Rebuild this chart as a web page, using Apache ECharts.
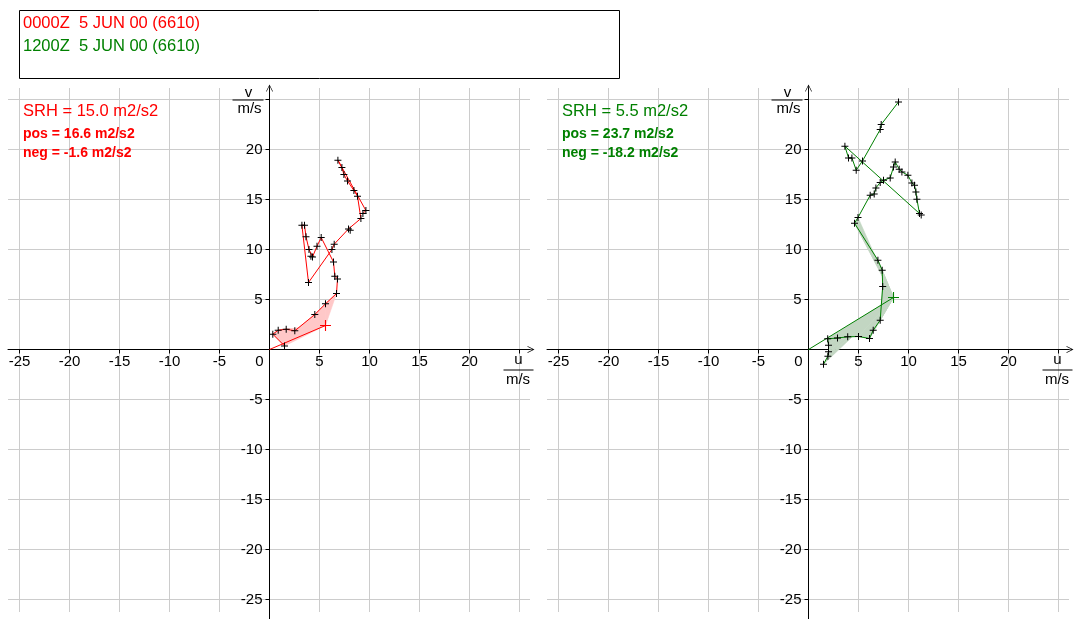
<!DOCTYPE html>
<html>
<head>
<meta charset="utf-8">
<title>Hodograph 5 JUN 00</title>
<script src="https://cdn.jsdelivr.net/npm/echarts@6.0.0/dist/echarts.min.js"></script>
<style>
  html, body { margin: 0; padding: 0; background: #fff; }
  #chart { width: 1078px; height: 619px; }
</style>
</head>
<body>
<div id="chart"></div>
<script>
// ---- data (u, v in m/s), listed from the surface upward ----
const redU = [1.5, 0.33, 0.87, 1.67, 2.53, 4.53, 5.6, 6.7, 6.8, 6.53, 6.4, 5.17, 4.75, 4.3, 4.14, 3.95, 3.65, 3.5, 3.24, 3.9, 6.24, 6.47, 7.9, 8.07, 9.14, 8.8, 8.44, 7.8, 7.44, 7.24, 6.84, 9.64, 9.34]
const redV = [0.36, 1.53, 1.93, 2.03, 1.87, 3.5, 4.57, 5.6, 7.06, 7.33, 8.75, 11.2, 10.33, 9.26, 9.33, 10.0, 11.27, 12.43, 12.43, 6.7, 10.0, 10.53, 12.06, 11.93, 13.1, 15.33, 15.9, 16.86, 17.5, 18.2, 18.93, 13.9, 13.6]
const redStorm = [5.6, 2.4]
const redLayerPts = 8 // points in the shaded (helicity) layer

const greenU = [1.5, 1.94, 2.0, 2.0, 1.92, 2.9, 3.92, 5.0, 6.1, 6.47, 7.17, 7.42, 7.37, 6.94, 4.6, 4.95, 6.17, 6.57, 6.74, 7.17, 7.5, 8.17, 8.5, 8.67, 9.07, 9.34, 9.94, 10.34, 10.6, 10.74, 10.84, 11.1, 11.27, 3.64, 4.0, 4.34, 4.77, 5.4, 7.17, 7.27, 9.0]
const greenV = [-1.47, -0.67, -0.23, 0.43, 1.07, 1.15, 1.27, 1.3, 1.1, 1.93, 2.93, 6.3, 7.93, 8.93, 12.63, 13.2, 15.43, 15.56, 16.16, 16.7, 16.93, 17.16, 18.26, 18.76, 18.03, 17.76, 17.43, 16.66, 16.43, 15.76, 15.03, 13.6, 13.45, 20.33, 19.16, 19.16, 17.93, 18.86, 22.0, 22.5, 24.76]
const greenStorm = [8.5, 5.2]
const greenLayerPts = 16

const tickValues = [-25, -20, -15, -10, -5, 0, 5, 10, 15, 20, 25]
const soundings = ['0000Z  5 JUN 00 (6610)', '1200Z  5 JUN 00 (6610)']
const redStats = ['SRH = 15.0 m2/s2', 'pos = 16.6 m2/s2', 'neg = -1.6 m2/s2']
const greenStats = ['SRH = 5.5 m2/s2', 'pos = 23.7 m2/s2', 'neg = -18.2 m2/s2']

// ---- layout / styling ----
const RED = '#ff0000'
const GREEN = '#008000'
const FONT = "'Liberation Sans', Arial, sans-serif"
const plusSmall = 'path://M3,0H4V3H7V4H4V7H3V4H0V3H3Z'
const plusBig = 'path://M4.5,0H5.5V4.5H10V5.5H5.5V10H4.5V5.5H0V4.5H4.5Z'
const arrowPath = 'path://M5,0L10,10L9,10L5.5,3L5.5,10L4.5,10L4.5,3L1,10L0,10Z'
const GRID_TOP = 88, GRID_W = 522, GRID_H = 524
const X_MIN = -26.15, X_MAX = 26.05, Y_MIN = -26.25, Y_MAX = 26.15
const panels = [
  { left: 8, u: redU, v: redV, storm: redStorm, n: redLayerPts, color: RED, shade: '#ffc8c8', stats: redStats },
  { left: 547, u: greenU, v: greenV, storm: greenStorm, n: greenLayerPts, color: GREEN, shade: '#c2d6c2', stats: greenStats }
]
// pixel distance from the grid edge to the zero line (axes cross at the origin)
const xAxisShift = GRID_H * (0 - Y_MIN) / (Y_MAX - Y_MIN)
const yAxisShift = GRID_W * (0 - X_MIN) / (X_MAX - X_MIN)

const chart = echarts.init(document.getElementById('chart'), null, { renderer: 'canvas' })

const isTick = val => tickValues.some(t => Math.abs(t - val) < 1e-6)

const xAxes = panels.map((p, i) => ({
  gridIndex: i,
  type: 'value',
  position: 'bottom',
  offset: -xAxisShift,
  min: X_MIN,
  max: X_MAX,
  splitNumber: 10,
  axisLine: {
    onZero: false,
    lineStyle: { color: '#000', width: 1 },
    symbol: ['none', arrowPath],
    symbolSize: [7, 8],
    symbolOffset: [0, 1]
  },
  axisTick: { show: true, length: 4, lineStyle: { color: '#000' } },
  axisLabel: {
    color: '#000',
    fontSize: 15,
    fontFamily: FONT,
    margin: 5,
    showMinLabel: false,
    showMaxLabel: false,
    formatter: val => {
      if (!isTick(val) || val === 25) return ''
      if (val === 0) return '{z|0}'
      return String(val)
    },
    rich: { z: { fontSize: 15, fontFamily: FONT, color: '#000', padding: [0, 20, 0, 0] } }
  },
  splitLine: { show: true, showMinLine: false, showMaxLine: false, lineStyle: { color: '#cccccc', width: 1 } }
}))

const yAxes = panels.map((p, i) => ({
  gridIndex: i,
  type: 'value',
  position: 'left',
  offset: -yAxisShift,
  min: Y_MIN,
  max: Y_MAX,
  splitNumber: 10,
  axisLine: {
    onZero: false,
    lineStyle: { color: '#000', width: 1 },
    symbol: ['none', arrowPath],
    symbolSize: [7, 8],
    symbolOffset: [0, 0]
  },
  axisTick: { show: true, length: 4, lineStyle: { color: '#000' } },
  axisLabel: {
    color: '#000',
    fontSize: 15,
    fontFamily: FONT,
    margin: 7,
    showMinLabel: false,
    showMaxLabel: false,
    formatter: val => (!isTick(val) || val === 0 || val === 25) ? '' : String(val)
  },
  splitLine: { show: true, showMinLine: false, showMaxLine: false, lineStyle: { color: '#cccccc', width: 1 } }
}))

const series = []
panels.forEach((p, i) => {
  // helicity shading: one triangle per layer segment, fanned from the storm motion point
  const tri = []
  for (let k = 0; k < p.n - 1; k++) tri.push([p.u[k], p.v[k], p.u[k + 1], p.v[k + 1]])
  series.push({
    type: 'custom',
    xAxisIndex: i,
    yAxisIndex: i,
    silent: true,
    z: 1,
    data: tri,
    itemStyle: { color: p.shade, opacity: 1 },
    encode: { x: [0, 2], y: [1, 3] },
    renderItem: (params, api) => {
      const s = api.coord(p.storm)
      const a = api.coord([api.value(0), api.value(1)])
      const b = api.coord([api.value(2), api.value(3)])
      return {
        type: 'polygon',
        shape: { points: [s, a, b] },
        style: { fill: p.shade, stroke: p.shade, lineWidth: 0.6, opacity: 1 }
      }
    }
  })
  // storm motion vector
  series.push({
    type: 'line',
    xAxisIndex: i,
    yAxisIndex: i,
    z: 3,
    data: [
      { value: [0, 0], symbol: 'none' },
      { value: p.storm, symbol: plusBig, symbolSize: 11 }
    ],
    lineStyle: { color: p.color, width: 1 },
    itemStyle: { color: p.color }
  })
  // hodograph
  series.push({
    type: 'line',
    xAxisIndex: i,
    yAxisIndex: i,
    z: 4,
    data: p.u.map((u, k) => [u, p.v[k]]),
    symbol: plusSmall,
    symbolSize: 7,
    showAllSymbol: true,
    lineStyle: { color: p.color, width: 1 },
    itemStyle: { color: '#000' }
  })
})

chart.setOption({
  animation: false,
  backgroundColor: '#fff',
  grid: panels.map(p => ({
    left: p.left, top: GRID_TOP, width: GRID_W, height: GRID_H,
    containLabel: false, outerBoundsMode: 'none'
  })),
  xAxis: xAxes,
  yAxis: yAxes,
  series
})

// ---- annotations placed relative to each panel's origin ----
const graphics = [
  { type: 'rect', shape: { x: 19.5, y: 10.5, width: 600, height: 68 }, style: { fill: '#fff', stroke: '#000', lineWidth: 1 }, z: 10 },
  { type: 'text', x: 23, y: 23, style: { text: soundings[0], fill: RED, font: '16.5px ' + FONT, textVerticalAlign: 'middle' }, z: 11 },
  { type: 'text', x: 23, y: 46, style: { text: soundings[1], fill: GREEN, font: '16.5px ' + FONT, textVerticalAlign: 'middle' }, z: 11 }
]
panels.forEach((p, i) => {
  const o = chart.convertToPixel({ gridIndex: i }, [0, 0])
  const ox = Math.round(o[0] - 0.5) + 0.5, oy = o[1]
  const fs = { fill: '#000', font: '15px ' + FONT, textAlign: 'center', textVerticalAlign: 'middle' }
  graphics.push(
    // y axis runs on to the bottom edge of the picture
    { type: 'line', shape: { x1: ox, y1: GRID_TOP + GRID_H, x2: ox, y2: 619 }, style: { stroke: '#000', lineWidth: 1 }, z: 11 },
    { type: 'text', x: ox - 21, y: oy - 257, style: Object.assign({ text: 'v' }, fs), z: 11 },
    { type: 'line', shape: { x1: ox - 37, y1: oy - 249.5, x2: ox - 6, y2: oy - 249.5 }, style: { stroke: '#000', lineWidth: 1 }, z: 11 },
    { type: 'text', x: ox - 20, y: oy - 241, style: Object.assign({ text: 'm/s' }, fs), z: 11 },
    { type: 'text', x: ox + 249, y: oy + 10, style: Object.assign({ text: 'u' }, fs), z: 11 },
    { type: 'line', shape: { x1: ox + 234, y1: oy + 20.5, x2: ox + 264, y2: oy + 20.5 }, style: { stroke: '#000', lineWidth: 1 }, z: 11 },
    { type: 'text', x: ox + 248.5, y: oy + 30, style: Object.assign({ text: 'm/s' }, fs), z: 11 },
    { type: 'text', x: p.left + 15, y: 111.5, style: { text: p.stats[0], fill: p.color, font: '16.5px ' + FONT, textVerticalAlign: 'middle' }, z: 11 },
    { type: 'text', x: p.left + 15, y: 134, style: { text: p.stats[1], fill: p.color, font: 'bold 14px ' + FONT, textVerticalAlign: 'middle' }, z: 11 },
    { type: 'text', x: p.left + 15, y: 153.5, style: { text: p.stats[2], fill: p.color, font: 'bold 14px ' + FONT, textVerticalAlign: 'middle' }, z: 11 }
  )
})
chart.setOption({ graphic: graphics })
</script>
</body>
</html>
